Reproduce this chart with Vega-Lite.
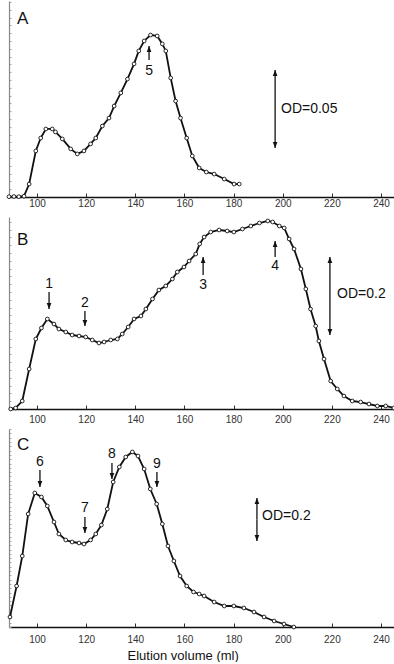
{
  "$schema": "https://vega.github.io/schema/vega-lite/v6.json",
  "padding": {"left": 5, "top": 1, "right": 0, "bottom": 0},
  "background": "white",
  "spacing": 20,
  "bounds": "flush",
  "config": {
    "view": {"stroke": null},
    "font": "Liberation Sans",
    "axis": {"grid": false, "title": null},
    "axisX": {"domainColor": "#111", "domainWidth": 1.5, "tickColor": "#333", "tickSize": -4, "tickWidth": 1, "labelFontSize": 10, "labelColor": "#333", "labelPadding": 5, "values": [100, 120, 140, 160, 180, 200, 220, 240]},
    "axisY": {"labels": false, "ticks": true, "tickSize": -2, "tickCount": 30, "tickColor": "#aaa", "domainColor": "#888", "domainWidth": 1.2}
  },
  "datasets": {
    "curves": [
      {"panel": "A", "vol": 88.6, "od": 0.0002}, {"panel": "A", "vol": 90.6, "od": 0.0003}, {"panel": "A", "vol": 92.6, "od": 0.0002}, {"panel": "A", "vol": 94.7, "od": 0.0005},
      {"panel": "A", "vol": 96.8, "od": 0.0083}, {"panel": "A", "vol": 99.5, "od": 0.0295}, {"panel": "A", "vol": 101.5, "od": 0.0378}, {"panel": "A", "vol": 103.6, "od": 0.0436},
      {"panel": "A", "vol": 106.2, "od": 0.0436}, {"panel": "A", "vol": 107.5, "od": 0.0417}, {"panel": "A", "vol": 110.3, "od": 0.0372}, {"panel": "A", "vol": 113.7, "od": 0.0308},
      {"panel": "A", "vol": 116.4, "od": 0.0276}, {"panel": "A", "vol": 119.1, "od": 0.0295}, {"panel": "A", "vol": 121.8, "od": 0.034}, {"panel": "A", "vol": 123.9, "od": 0.0378},
      {"panel": "A", "vol": 126.6, "od": 0.0455}, {"panel": "A", "vol": 129.3, "od": 0.0506}, {"panel": "A", "vol": 131.4, "od": 0.0583}, {"panel": "A", "vol": 134.1, "od": 0.0667},
      {"panel": "A", "vol": 136.8, "od": 0.0756}, {"panel": "A", "vol": 139.5, "od": 0.0853}, {"panel": "A", "vol": 141.4, "od": 0.0936}, {"panel": "A", "vol": 143.6, "od": 0.1},
      {"panel": "A", "vol": 146.2, "od": 0.1038}, {"panel": "A", "vol": 148.9, "od": 0.1032}, {"panel": "A", "vol": 151.0, "od": 0.0981}, {"panel": "A", "vol": 152.4, "od": 0.0936},
      {"panel": "A", "vol": 154.4, "od": 0.0763}, {"panel": "A", "vol": 156.4, "od": 0.0615}, {"panel": "A", "vol": 158.4, "od": 0.0506}, {"panel": "A", "vol": 160.9, "od": 0.0378},
      {"panel": "A", "vol": 163.2, "od": 0.0263}, {"panel": "A", "vol": 166.0, "od": 0.0186}, {"panel": "A", "vol": 168.9, "od": 0.016}, {"panel": "A", "vol": 172.1, "od": 0.0147},
      {"panel": "A", "vol": 176.2, "od": 0.0115}, {"panel": "A", "vol": 180.2, "od": 0.0083}, {"panel": "A", "vol": 182.3, "od": 0.0083},

      {"panel": "B", "vol": 89.3, "od": 0.0}, {"panel": "B", "vol": 91.3, "od": 0.0026}, {"panel": "B", "vol": 94.0, "od": 0.0205}, {"panel": "B", "vol": 96.8, "od": 0.1026},
      {"panel": "B", "vol": 99.5, "od": 0.1795}, {"panel": "B", "vol": 101.8, "od": 0.2077}, {"panel": "B", "vol": 104.2, "od": 0.2308}, {"panel": "B", "vol": 106.9, "od": 0.2179},
      {"panel": "B", "vol": 108.9, "od": 0.2051}, {"panel": "B", "vol": 111.7, "od": 0.1974}, {"panel": "B", "vol": 114.3, "od": 0.1897}, {"panel": "B", "vol": 117.1, "od": 0.1872},
      {"panel": "B", "vol": 119.8, "od": 0.1846}, {"panel": "B", "vol": 122.5, "od": 0.1769}, {"panel": "B", "vol": 125.2, "od": 0.1692}, {"panel": "B", "vol": 127.3, "od": 0.1718},
      {"panel": "B", "vol": 130.0, "od": 0.1769}, {"panel": "B", "vol": 132.7, "od": 0.1795}, {"panel": "B", "vol": 134.7, "od": 0.1923}, {"panel": "B", "vol": 137.1, "od": 0.2103},
      {"panel": "B", "vol": 139.5, "od": 0.2308}, {"panel": "B", "vol": 142.3, "od": 0.2385}, {"panel": "B", "vol": 144.3, "od": 0.2564}, {"panel": "B", "vol": 147.0, "od": 0.2821},
      {"panel": "B", "vol": 149.6, "od": 0.3051}, {"panel": "B", "vol": 152.4, "od": 0.3154}, {"panel": "B", "vol": 155.1, "od": 0.3333}, {"panel": "B", "vol": 157.1, "od": 0.3513},
      {"panel": "B", "vol": 159.8, "od": 0.3641}, {"panel": "B", "vol": 161.9, "od": 0.3795}, {"panel": "B", "vol": 164.6, "od": 0.3974}, {"panel": "B", "vol": 166.2, "od": 0.4231},
      {"panel": "B", "vol": 168.0, "od": 0.441}, {"panel": "B", "vol": 170.7, "od": 0.4538}, {"panel": "B", "vol": 174.1, "od": 0.459}, {"panel": "B", "vol": 177.4, "od": 0.4564},
      {"panel": "B", "vol": 180.1, "od": 0.4538}, {"panel": "B", "vol": 183.6, "od": 0.4615}, {"panel": "B", "vol": 187.0, "od": 0.4692}, {"panel": "B", "vol": 190.5, "od": 0.4769},
      {"panel": "B", "vol": 193.9, "od": 0.4821}, {"panel": "B", "vol": 195.9, "od": 0.4795}, {"panel": "B", "vol": 198.6, "od": 0.4692}, {"panel": "B", "vol": 200.6, "od": 0.4641},
      {"panel": "B", "vol": 202.6, "od": 0.4359}, {"panel": "B", "vol": 204.6, "od": 0.4103}, {"panel": "B", "vol": 207.4, "od": 0.359}, {"panel": "B", "vol": 209.4, "od": 0.3077},
      {"panel": "B", "vol": 211.3, "od": 0.2564}, {"panel": "B", "vol": 213.4, "od": 0.2128}, {"panel": "B", "vol": 214.7, "od": 0.1744}, {"panel": "B", "vol": 216.8, "od": 0.1282},
      {"panel": "B", "vol": 219.5, "od": 0.0718}, {"panel": "B", "vol": 222.2, "od": 0.0513}, {"panel": "B", "vol": 224.9, "od": 0.0333}, {"panel": "B", "vol": 228.3, "od": 0.0205},
      {"panel": "B", "vol": 231.7, "od": 0.0179}, {"panel": "B", "vol": 235.1, "od": 0.0128}, {"panel": "B", "vol": 238.5, "od": 0.0077}, {"panel": "B", "vol": 241.9, "od": 0.0077},
      {"panel": "B", "vol": 245.2, "od": 0.0026},

      {"panel": "C", "vol": 89.0, "od": 0.0465}, {"panel": "C", "vol": 91.7, "od": 0.1907}, {"panel": "C", "vol": 94.0, "od": 0.3302}, {"panel": "C", "vol": 96.4, "od": 0.5256},
      {"panel": "C", "vol": 99.1, "od": 0.6233}, {"panel": "C", "vol": 101.8, "od": 0.6047}, {"panel": "C", "vol": 104.2, "od": 0.5628}, {"panel": "C", "vol": 106.9, "od": 0.4884},
      {"panel": "C", "vol": 108.9, "od": 0.4326}, {"panel": "C", "vol": 111.7, "od": 0.4047}, {"panel": "C", "vol": 114.3, "od": 0.3953}, {"panel": "C", "vol": 117.1, "od": 0.3907},
      {"panel": "C", "vol": 119.1, "od": 0.386}, {"panel": "C", "vol": 121.8, "od": 0.4047}, {"panel": "C", "vol": 123.9, "od": 0.4326}, {"panel": "C", "vol": 126.2, "od": 0.4744},
      {"panel": "C", "vol": 128.6, "od": 0.5488}, {"panel": "C", "vol": 131.0, "od": 0.6744}, {"panel": "C", "vol": 133.5, "od": 0.7442}, {"panel": "C", "vol": 136.1, "od": 0.7907},
      {"panel": "C", "vol": 138.8, "od": 0.814}, {"panel": "C", "vol": 141.1, "od": 0.7953}, {"panel": "C", "vol": 143.6, "od": 0.7349}, {"panel": "C", "vol": 146.1, "od": 0.6419},
      {"panel": "C", "vol": 148.7, "od": 0.5721}, {"panel": "C", "vol": 151.0, "od": 0.4791}, {"panel": "C", "vol": 153.3, "od": 0.3767}, {"panel": "C", "vol": 155.7, "od": 0.307},
      {"panel": "C", "vol": 158.2, "od": 0.2372}, {"panel": "C", "vol": 160.9, "od": 0.1907}, {"panel": "C", "vol": 163.7, "od": 0.1628}, {"panel": "C", "vol": 166.0, "od": 0.1535},
      {"panel": "C", "vol": 168.0, "od": 0.1442}, {"panel": "C", "vol": 172.1, "od": 0.1163}, {"panel": "C", "vol": 176.2, "od": 0.0977}, {"panel": "C", "vol": 180.1, "od": 0.0977},
      {"panel": "C", "vol": 184.2, "od": 0.0884}, {"panel": "C", "vol": 188.3, "od": 0.0698}, {"panel": "C", "vol": 192.4, "od": 0.0465}, {"panel": "C", "vol": 196.5, "od": 0.0279},
      {"panel": "C", "vol": 200.5, "od": 0.014}, {"panel": "C", "vol": 204.5, "od": 0.0}
    ],
    "arrows": [
      {"panel": "A", "vol": 145.6, "od": 0.0968, "od2": 0.0878, "dir": "up"},
      {"panel": "A", "vol": 196.9, "od": 0.0814, "od2": 0.0564, "dir": "up"},
      {"panel": "A", "vol": 196.9, "od": 0.0314, "od2": 0.0564, "dir": "down"},
      {"panel": "B", "vol": 104.9, "od": 0.2564, "od2": 0.3, "dir": "down"},
      {"panel": "B", "vol": 119.5, "od": 0.2128, "od2": 0.2513, "dir": "down"},
      {"panel": "B", "vol": 167.6, "od": 0.3897, "od2": 0.3436, "dir": "up"},
      {"panel": "B", "vol": 196.9, "od": 0.4308, "od2": 0.3897, "dir": "up"},
      {"panel": "B", "vol": 219.2, "od": 0.3897, "od2": 0.2897, "dir": "up"},
      {"panel": "B", "vol": 219.2, "od": 0.1897, "od2": 0.2897, "dir": "down"},
      {"panel": "C", "vol": 101.2, "od": 0.6512, "od2": 0.7302, "dir": "down"},
      {"panel": "C", "vol": 119.5, "od": 0.4372, "od2": 0.5116, "dir": "down"},
      {"panel": "C", "vol": 130.5, "od": 0.6884, "od2": 0.7628, "dir": "down"},
      {"panel": "C", "vol": 148.8, "od": 0.6512, "od2": 0.7209, "dir": "down"},
      {"panel": "C", "vol": 189.5, "od": 0.6, "od2": 0.5, "dir": "up"},
      {"panel": "C", "vol": 189.5, "od": 0.4, "od2": 0.5, "dir": "down"}
    ],
    "texts": [
      {"panel": "A", "kind": "letter", "vol": 91.9, "od": 0.1141, "text": "A"},
      {"panel": "A", "kind": "num", "vol": 145.6, "od": 0.0808, "text": "5"},
      {"panel": "A", "kind": "od", "vol": 199.3, "od": 0.0564, "text": "OD=0.05"},
      {"panel": "B", "kind": "letter", "vol": 91.9, "od": 0.4321, "text": "B"},
      {"panel": "B", "kind": "num", "vol": 104.9, "od": 0.3205, "text": "1"},
      {"panel": "B", "kind": "num", "vol": 119.5, "od": 0.2718, "text": "2"},
      {"panel": "B", "kind": "num", "vol": 167.6, "od": 0.3179, "text": "3"},
      {"panel": "B", "kind": "num", "vol": 196.9, "od": 0.3667, "text": "4"},
      {"panel": "B", "kind": "od", "vol": 222.1, "od": 0.2949, "text": "OD=0.2"},
      {"panel": "C", "kind": "letter", "vol": 91.9, "od": 0.8442, "text": "C"},
      {"panel": "C", "kind": "num", "vol": 101.2, "od": 0.7674, "text": "6"},
      {"panel": "C", "kind": "num", "vol": 119.5, "od": 0.5535, "text": "7"},
      {"panel": "C", "kind": "num", "vol": 130.5, "od": 0.8047, "text": "8"},
      {"panel": "C", "kind": "num", "vol": 148.8, "od": 0.7581, "text": "9"},
      {"panel": "C", "kind": "od", "vol": 191.6, "od": 0.5163, "text": "OD=0.2"}
    ]
  },
  "vconcat": [
    {
      "width": 388, "height": 196,
      "encoding": {
        "x": {"field": "vol", "type": "quantitative", "scale": {"domain": [88.6, 246.5], "nice": false, "zero": false}, "axis": {"labelPadding": 5}},
        "y": {"field": "od", "type": "quantitative", "scale": {"domain": [0, 0.1256], "nice": false, "zero": false}}
      },
      "layer": [
        {"data": {"name": "curves"}, "transform": [{"filter": "datum.panel === 'A'"}], "mark": {"type": "line", "color": "#111", "strokeWidth": 1.8}},
        {"data": {"name": "curves"}, "transform": [{"filter": "datum.panel === 'A'"}], "mark": {"type": "point", "shape": "circle", "fill": "white", "stroke": "#111", "strokeWidth": 0.9, "size": 14, "opacity": 1}},
        {"data": {"name": "arrows"}, "transform": [{"filter": "datum.panel === 'A'"}], "mark": {"type": "rule", "color": "#111", "strokeWidth": 1.3}, "encoding": {"y2": {"field": "od2"}}},
        {"data": {"name": "arrows"}, "transform": [{"filter": "datum.panel === 'A'"}], "mark": {"type": "point", "filled": true, "color": "#111", "size": 45, "opacity": 1}, "encoding": {"shape": {"field": "dir", "type": "nominal", "scale": {"domain": ["up", "down"], "range": ["M0,0L-0.7,1.8L0.7,1.8Z", "M0,0L-0.7,-1.8L0.7,-1.8Z"]}, "legend": null}}},
        {"data": {"name": "texts"}, "transform": [{"filter": "datum.panel === 'A' && datum.kind === 'num'"}], "mark": {"type": "text", "fontSize": 14, "color": "#111", "align": "center", "baseline": "middle"}, "encoding": {"text": {"field": "text"}}},
        {"data": {"name": "texts"}, "transform": [{"filter": "datum.panel === 'A' && datum.kind === 'od'"}], "mark": {"type": "text", "fontSize": 14, "color": "#111", "align": "left", "baseline": "middle"}, "encoding": {"text": {"field": "text"}}},
        {"data": {"name": "texts"}, "transform": [{"filter": "datum.panel === 'A' && datum.kind === 'letter'"}], "mark": {"type": "text", "fontSize": 17, "color": "#111", "align": "left", "baseline": "middle"}, "encoding": {"text": {"field": "text"}}}
      ]
    },
    {
      "width": 388, "height": 192,
      "encoding": {
        "x": {"field": "vol", "type": "quantitative", "scale": {"domain": [88.6, 246.5], "nice": false, "zero": false}, "axis": {"labelPadding": 9}},
        "y": {"field": "od", "type": "quantitative", "scale": {"domain": [0, 0.4923], "nice": false, "zero": false}}
      },
      "layer": [
        {"data": {"name": "curves"}, "transform": [{"filter": "datum.panel === 'B'"}], "mark": {"type": "line", "color": "#111", "strokeWidth": 1.8}},
        {"data": {"name": "curves"}, "transform": [{"filter": "datum.panel === 'B'"}], "mark": {"type": "point", "shape": "circle", "fill": "white", "stroke": "#111", "strokeWidth": 0.9, "size": 14, "opacity": 1}},
        {"data": {"name": "arrows"}, "transform": [{"filter": "datum.panel === 'B'"}], "mark": {"type": "rule", "color": "#111", "strokeWidth": 1.3}, "encoding": {"y2": {"field": "od2"}}},
        {"data": {"name": "arrows"}, "transform": [{"filter": "datum.panel === 'B'"}], "mark": {"type": "point", "filled": true, "color": "#111", "size": 45, "opacity": 1}, "encoding": {"shape": {"field": "dir", "type": "nominal", "scale": {"domain": ["up", "down"], "range": ["M0,0L-0.7,1.8L0.7,1.8Z", "M0,0L-0.7,-1.8L0.7,-1.8Z"]}, "legend": null}}},
        {"data": {"name": "texts"}, "transform": [{"filter": "datum.panel === 'B' && datum.kind === 'num'"}], "mark": {"type": "text", "fontSize": 14, "color": "#111", "align": "center", "baseline": "middle"}, "encoding": {"text": {"field": "text"}}},
        {"data": {"name": "texts"}, "transform": [{"filter": "datum.panel === 'B' && datum.kind === 'od'"}], "mark": {"type": "text", "fontSize": 14, "color": "#111", "align": "left", "baseline": "middle"}, "encoding": {"text": {"field": "text"}}},
        {"data": {"name": "texts"}, "transform": [{"filter": "datum.panel === 'B' && datum.kind === 'letter'"}], "mark": {"type": "text", "fontSize": 17, "color": "#111", "align": "left", "baseline": "middle"}, "encoding": {"text": {"field": "text"}}}
      ]
    },
    {
      "width": 388, "height": 198,
      "encoding": {
        "x": {"field": "vol", "type": "quantitative", "scale": {"domain": [88.6, 246.5], "nice": false, "zero": false}, "axis": {"labelPadding": 11, "title": "Elution volume (ml)", "titleFontSize": 13, "titleFontWeight": "normal", "titleColor": "#111", "titlePadding": 5, "titleAnchor": "start", "titleAlign": "left", "titleX": 118}},
        "y": {"field": "od", "type": "quantitative", "scale": {"domain": [0, 0.9209], "nice": false, "zero": false}}
      },
      "layer": [
        {"data": {"name": "curves"}, "transform": [{"filter": "datum.panel === 'C'"}], "mark": {"type": "line", "color": "#111", "strokeWidth": 1.8}},
        {"data": {"name": "curves"}, "transform": [{"filter": "datum.panel === 'C'"}], "mark": {"type": "point", "shape": "circle", "fill": "white", "stroke": "#111", "strokeWidth": 0.9, "size": 14, "opacity": 1}},
        {"data": {"name": "arrows"}, "transform": [{"filter": "datum.panel === 'C'"}], "mark": {"type": "rule", "color": "#111", "strokeWidth": 1.3}, "encoding": {"y2": {"field": "od2"}}},
        {"data": {"name": "arrows"}, "transform": [{"filter": "datum.panel === 'C'"}], "mark": {"type": "point", "filled": true, "color": "#111", "size": 45, "opacity": 1}, "encoding": {"shape": {"field": "dir", "type": "nominal", "scale": {"domain": ["up", "down"], "range": ["M0,0L-0.7,1.8L0.7,1.8Z", "M0,0L-0.7,-1.8L0.7,-1.8Z"]}, "legend": null}}},
        {"data": {"name": "texts"}, "transform": [{"filter": "datum.panel === 'C' && datum.kind === 'num'"}], "mark": {"type": "text", "fontSize": 14, "color": "#111", "align": "center", "baseline": "middle"}, "encoding": {"text": {"field": "text"}}},
        {"data": {"name": "texts"}, "transform": [{"filter": "datum.panel === 'C' && datum.kind === 'od'"}], "mark": {"type": "text", "fontSize": 14, "color": "#111", "align": "left", "baseline": "middle"}, "encoding": {"text": {"field": "text"}}},
        {"data": {"name": "texts"}, "transform": [{"filter": "datum.panel === 'C' && datum.kind === 'letter'"}], "mark": {"type": "text", "fontSize": 17, "color": "#111", "align": "left", "baseline": "middle"}, "encoding": {"text": {"field": "text"}}}
      ]
    }
  ]
}
